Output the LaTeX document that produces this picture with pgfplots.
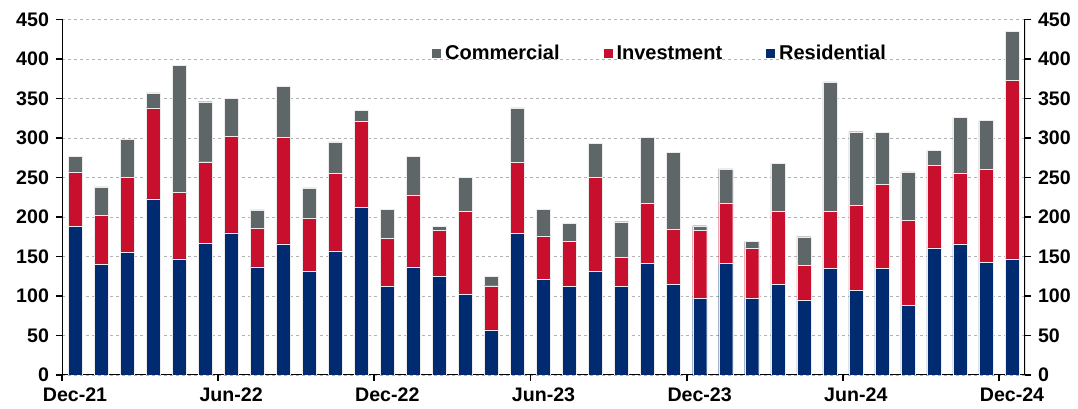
\documentclass[border=0pt]{standalone}
\usepackage{fontspec}
\setmainfont{Liberation Sans}
\usepackage{pgfplots}
\usepackage{pgfplotstable}
\pgfplotsset{compat=1.18}
\definecolor{resblue}{HTML}{002B70}
\definecolor{invred}{HTML}{C8102E}
\definecolor{comgray}{HTML}{5F6667}

\pgfplotstableread{
x R I C
0 188 69 20
1 140 62 36
2 155 95 48
3 223 115 19
4 147 84 161
5 167 103 76
6 180 122 48
7 137 49 23
8 166 135 64
9 131 68 38
10 157 98 40
11 212 109 14
12 112 61 37
13 137 91 49
14 125 58 5
15 102 105 43
16 57 56 12
17 179 90 69
18 121 55 34
19 112 57 23
20 131 119 43
21 112 37 45
22 141 76 84
23 115 70 97
24 97 86 6
25 141 77 43
26 97 64 8
27 115 92 61
28 95 44 36
29 135 72 164
30 107 108 93
31 135 106 66
32 88 108 61
33 161 104 19
34 166 90 70
35 143 117 62
36 147 226 62
}\data

\begin{document}
\begin{tikzpicture}
\begin{axis}[
  width=481.5pt, height=177.75pt, scale only axis,
  xmin=-0.5, xmax=36.5, ymin=0, ymax=450,
  ybar stacked, bar width=7pt,
  ytick={0,50,...,450},
  xtick={-0.5,5.5,11.5,17.5,23.5,29.5,35.5},
  xticklabels={Dec-21,Jun-22,Dec-22,Jun-23,Dec-23,Jun-24,Dec-24},
  xticklabel style={xshift=6.5pt},
  xtick pos=bottom, ytick pos=both, yticklabel pos=left,
  tick align=outside,
  major tick length=3pt,
  every tick/.style={black, line width=0.9pt},
  axis line style={draw=none},
  ymajorgrids,
  major grid style={gray!60, dash pattern=on 1.5pt off 1.5pt, line width=0.4pt},
  tick label style={font=\bfseries\fontsize{9.8}{12}\selectfont},
  /pgf/number format/assume math mode=true,
  legend style={at={(rel axis cs:0.622,0.903)}, anchor=center, draw=none, fill=none,
    font=\bfseries\fontsize{10}{12}\selectfont,
    /tikz/every even column/.append style={column sep=20pt}},
  legend columns=-1,
  reverse legend,
  legend image code/.code={\fill[#1,draw=none] (0pt,-2.25pt) rectangle (4.5pt,2.25pt);},
]
\addplot[fill=resblue, draw=white!85!gray, line width=0.15pt] table[x=x,y=R]{\data};
\addplot[fill=invred, draw=white!85!gray, line width=0.15pt] table[x=x,y=I]{\data};
\addplot[fill=comgray, draw=white!85!gray, line width=0.15pt] table[x=x,y=C]{\data};
\legend{Residential,Investment,Commercial}
\draw[line width=1.3pt] (rel axis cs:0,1) -- (rel axis cs:0,0) -- (rel axis cs:1,0) -- (rel axis cs:1,1);
\end{axis}
\begin{axis}[
  width=481.5pt, height=177.75pt, scale only axis,
  xmin=-0.5, xmax=36.5, ymin=0, ymax=450,
  ytick={0,50,...,450},
  yticklabel pos=right,
  ytick pos=right,
  major tick length=0pt,
  hide x axis,
  axis line style={draw=none},
  tick label style={font=\bfseries\fontsize{9.8}{12}\selectfont},
  /pgf/number format/assume math mode=true,
  yticklabel style={xshift=3pt},
]
\end{axis}
\path ([xshift=-31pt,yshift=-15.5pt]current axis.south west) rectangle ([xshift=26.5pt,yshift=9.75pt]current axis.north east);
\end{tikzpicture}
\end{document}
